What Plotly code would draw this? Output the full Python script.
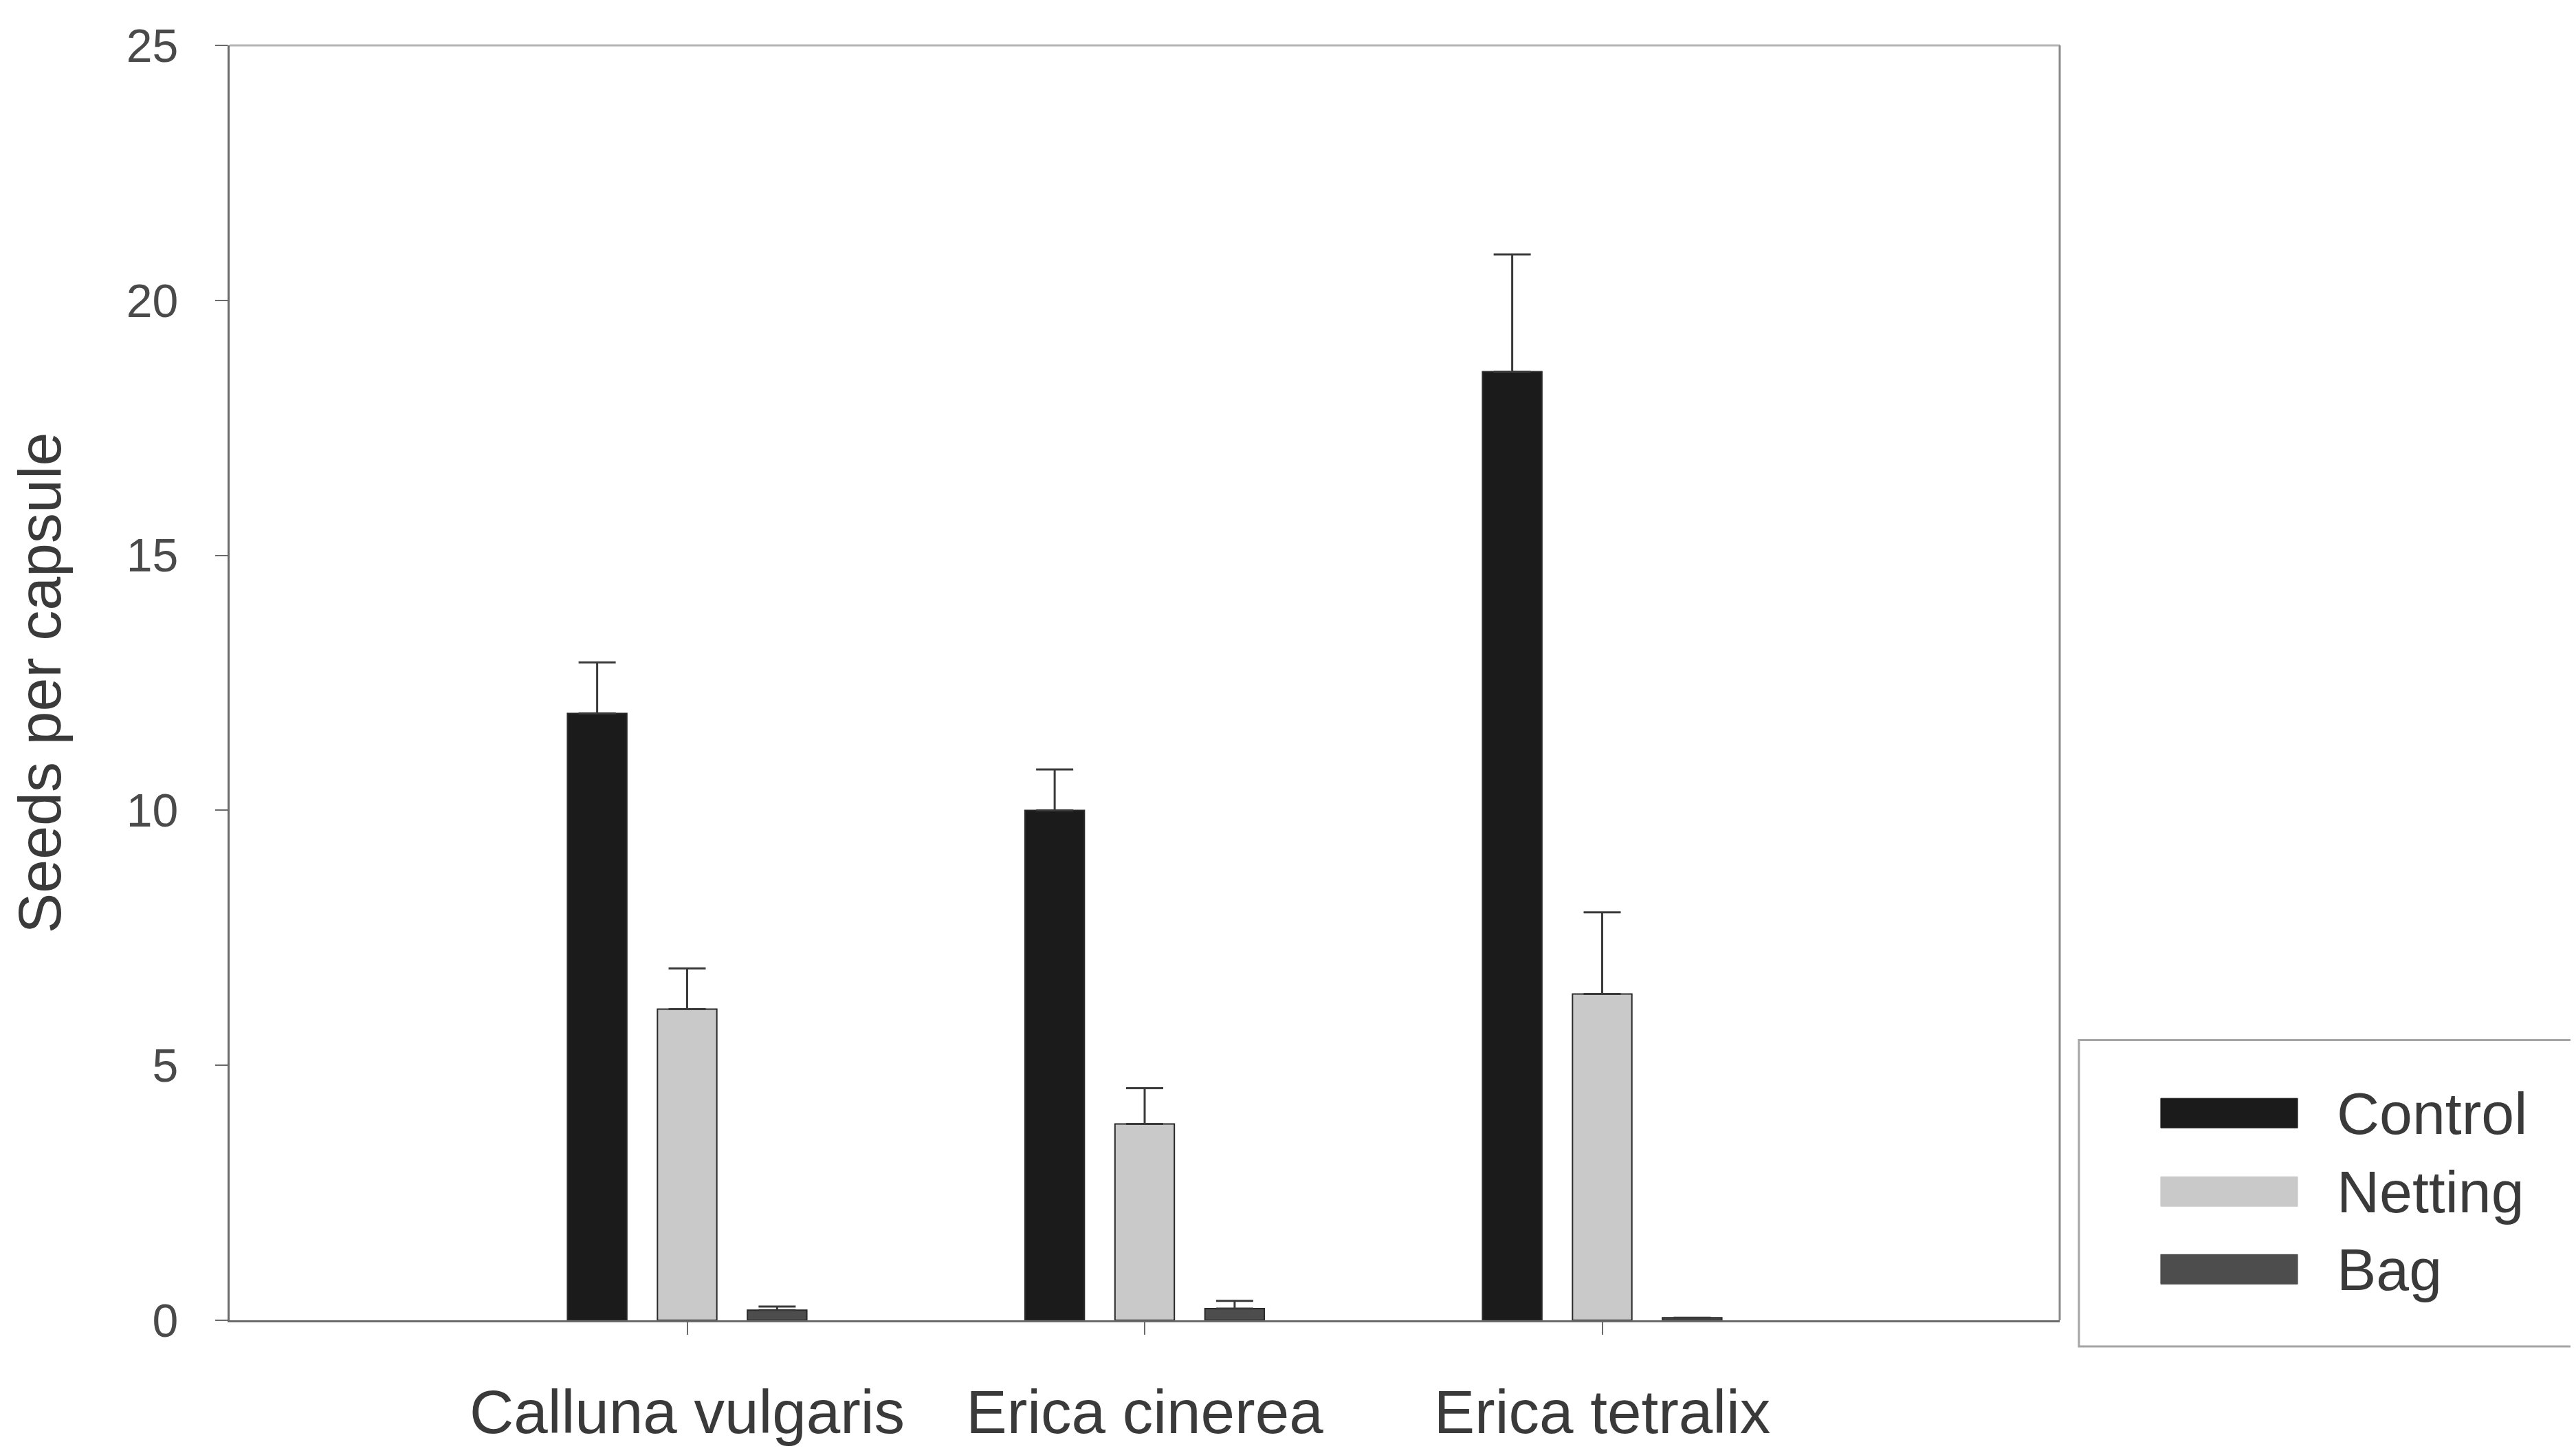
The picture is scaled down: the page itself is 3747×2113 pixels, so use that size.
# seeds per capsule - grouped bars with one-sided SE bars (sigmaplot look)

import plotly.graph_objects as go

categories = ["Calluna vulgaris", "Erica cinerea", "Erica tetralix"]
series_names = ["Control", "Netting", "Bag"]

control = [11.9, 10.0, 18.6]
control_se = [1.0, 0.8, 2.3]
netting = [6.1, 3.85, 6.4]
netting_se = [0.8, 0.7, 1.6]
bag = [0.2, 0.23, 0.05]
bag_se = [0.07, 0.15, 0.0]

y_ticks = [0, 5, 10, 15, 20, 25]

colors = ["#1b1b1b", "#c9c9c9", "#4d4d4d"]
FONT = "Liberation Sans, Arial, sans-serif"
TXT = "#3a3a3a"

fig = go.Figure()
for name, vals, se, col in zip(series_names, [control, netting, bag],
                               [control_se, netting_se, bag_se], colors):
    fig.add_trace(go.Bar(
        x=categories, y=vals, name=name,
        marker=dict(color=col, line=dict(color="#2a2a2a", width=2)),
        error_y=dict(type="data", symmetric=False, array=se, arrayminus=[0] * len(se),
                     color="#3a3a3a", thickness=3, width=27),
        showlegend=False,
    ))

fig.update_layout(
    width=3747, height=2113,
    margin=dict(l=326, r=759, t=58, b=201),
    paper_bgcolor="white", plot_bgcolor="white",
    barmode="group", bargap=0.41, bargroupgap=0.34,
    font=dict(family=FONT, color=TXT),
)

fig.update_xaxes(
    type="category", range=[-1, 3],
    showline=True, linecolor="#6a6a6a", linewidth=3,
    ticks="outside", ticklen=18, tickwidth=2, tickcolor="#6a6a6a",
    tickfont=dict(size=89, color=TXT), ticklabelstandoff=36,
    showgrid=False, zeroline=False,
)
fig.update_yaxes(
    range=[0, 25], tickvals=y_ticks,
    showline=True, linecolor="#6a6a6a", linewidth=3,
    ticks="outside", ticklen=18, tickwidth=2, tickcolor="#6a6a6a",
    tickfont=dict(size=68, color="#4a4a4a"), ticklabelstandoff=40,
    title=dict(text="Seeds per capsule", font=dict(size=88, color=TXT), standoff=68),
    showgrid=False, zeroline=False,
)

# frame: lighter top and right edges
fig.add_shape(type="line", xref="paper", yref="paper", x0=0, x1=1, y0=1, y1=1,
              line=dict(color="#b5b5b5", width=3))
fig.add_shape(type="line", xref="paper", yref="paper", x0=1, x1=1, y0=0, y1=1,
              line=dict(color="#8a8a8a", width=3))

# legend box drawn by hand (plotly swatches are too small)
fig.add_shape(type="rect", xref="paper", yref="paper", x0=1.0105, x1=1.30, y0=-0.0205, y1=0.2198,
              line=dict(color="#a5a5a5", width=3), fillcolor="white")
row_y = [0.1625, 0.1010, 0.0400]
for name, col, yy in zip(series_names, colors, row_y):
    fig.add_shape(type="rect", xref="paper", yref="paper", x0=1.0552, x1=1.1300,
                  y0=yy - 0.0116, y1=yy + 0.0116, fillcolor=col, line=dict(color=col, width=1))
    fig.add_annotation(text=name, xref="paper", yref="paper", x=1.1506, y=yy,
                       xanchor="left", yanchor="middle", showarrow=False,
                       font=dict(size=86, color=TXT))

fig.write_html("out.html")
